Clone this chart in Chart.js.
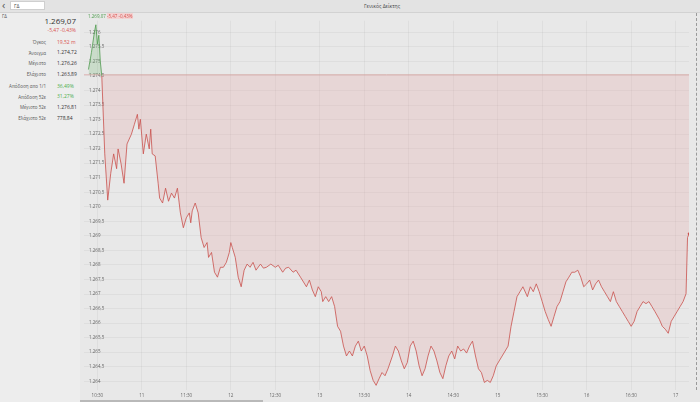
<!DOCTYPE html>
<html>
<head>
<meta charset="utf-8">
<script src="https://cdn.jsdelivr.net/npm/chart.js@4.4.0/dist/chart.umd.min.js"></script>
<style>
  body { margin: 0; width: 700px; height: 402px; overflow: hidden; position: relative; background: #ededed; font-family: "Open Sans", sans-serif; }
  #topbar { position: absolute; left: 0; top: 0; width: 700px; height: 12px; background: #e3e3e3; border-bottom: 1px solid #d2d2d2; }
  #back { position: absolute; left: 2px; top: -3px; font-size: 11px; color: #555; }
  #search { position: absolute; left: 10px; top: 1px; width: 35px; height: 9px; background: #fff; border: 1px solid #cfcfcf; font-size: 5px; line-height: 9px; padding-left: 3px; box-sizing: border-box; color: #444; }
  #title { position: absolute; left: 382px; top: 3px; transform: translateX(-50%); font-size: 5px; color: #444; white-space: nowrap; }
  #code { position: absolute; left: 2px; top: 13px; font-size: 4.5px; color: #555; }
  #price { position: absolute; right: 624px; top: 15px; font-size: 8px; color: #333; }
  #change { position: absolute; right: 624px; top: 27px; font-size: 5px; color: #d9534f; }
  .lbl { position: absolute; right: 654px; font-size: 4.5px; color: #555; white-space: nowrap; }
  .val { position: absolute; left: 57px; font-size: 5px; color: #333; white-space: nowrap; }
  .red { color: #d9534f; }
  .green { color: #4cae4c; }
  #wrap { position: absolute; left: 80px; top: 13px; width: 620px; height: 389px; background: #e8e8e8; }
  #tip { position: absolute; left: 88px; top: 13px; font-size: 4.5px; white-space: nowrap; }
  #tip .up { color: #4a9a4a; }
  #tip .dn { color: #d9534f; background: #f3d3d3; }
  #rightedge { position: absolute; left: 696px; top: 13px; height: 377px; border-left: 1px dashed #9a9a9a; }
  #scroll { position: absolute; left: 80px; top: 400px; width: 183px; height: 2px; background: #b9b9b9; }
</style>
</head>
<body>
<div id="topbar">
  <div id="back">‹</div>
  <div id="search">ΓΔ</div>
  <div id="title">Γενικός Δείκτης</div>
</div>
<div id="code">ΓΔ</div>
<div id="price">1.269,07</div>
<div id="change">-5,47 -0,43%</div>

<div class="lbl" style="top:39px">Όγκος</div><div class="val red" style="top:38.5px">19,52 m</div>
<div class="lbl" style="top:49.5px">Άνοιγμα</div><div class="val" style="top:49px">1.274,72</div>
<div class="lbl" style="top:60px">Μέγιστο</div><div class="val" style="top:59.5px">1.276,26</div>
<div class="lbl" style="top:71px">Ελάχιστο</div><div class="val" style="top:70.5px">1.263,89</div>
<div class="lbl" style="top:83px">Απόδοση απο 1/1</div><div class="val green" style="top:82.5px">36,49%</div>
<div class="lbl" style="top:93.5px">Απόδοση 52ε</div><div class="val green" style="top:93px">31,27%</div>
<div class="lbl" style="top:104px">Μέγιστο 52ε</div><div class="val" style="top:103.5px">1.276,81</div>
<div class="lbl" style="top:115px">Ελάχιστο 52ε</div><div class="val" style="top:114.5px">778,84</div>

<div id="wrap"><canvas id="chart"></canvas></div>
<div id="tip"><span class="up">1.269,07 </span><span class="dn">-5,47 -0,43%</span></div>
<div id="rightedge"></div>
<div id="scroll"></div>

<script>
"use strict";

// Γενικός Δείκτης, ενδοσυνεδριακά
const times = [
  '10:24','10:26','10:28','10:29','10:30','10:31','10:32','10:33',
  '10:35','10:37','10:39','10:41','10:43','10:44','10:46','10:48','10:50','10:53','10:55','10:57','10:58','10:59',
  '11:01','11:03','11:05','11:06','11:07','11:09','11:11','11:12','11:14','11:16','11:18','11:20','11:22','11:24','11:26','11:28','11:30','11:32','11:33','11:34','11:36','11:38','11:40','11:42','11:44','11:45','11:47','11:49','11:51','11:53','11:55','11:57','11:59',
  '12:00','12:01','12:03','12:05','12:07','12:09','12:11','12:13','12:15','12:17','12:20','12:22','12:24','12:27','12:30','12:32','12:35','12:37','12:39','12:42','12:44','12:47','12:51','12:53','12:55','12:57','12:59',
  '13:01','13:02','13:04','13:06','13:08','13:10','13:12','13:14','13:16','13:18','13:20','13:22','13:24','13:26','13:28','13:30','13:32','13:34','13:36','13:38','13:40','13:42','13:44','13:46','13:49','13:51','13:53','13:55','13:57','13:59',
  '14:01','14:03','14:05','14:07','14:09','14:11','14:13','14:15','14:17','14:19','14:21','14:23','14:25','14:27','14:29','14:31','14:33','14:35','14:37','14:39','14:41','14:43','14:45','14:47','14:49','14:51','14:53','14:55','14:57','14:59',
  '15:01','15:03','15:05','15:07','15:09','15:11','15:13','15:15','15:17','15:20','15:22','15:24','15:26','15:28','15:30','15:32','15:34','15:36','15:38','15:40','15:42','15:44','15:46','15:48','15:50','15:52','15:54','15:56','15:58',
  '16:00','16:02','16:04','16:06','16:08','16:10','16:12','16:14','16:16','16:18','16:20','16:22','16:24','16:26','16:28','16:30','16:32','16:34','16:36','16:38','16:40','16:42','16:44','16:46','16:49','16:51','16:53','16:55','16:57','16:59',
  '17:01','17:03','17:05','17:07','17:08','17:09'
];

const values = [
  1274.72, 1275.30, 1276.00, 1276.26, 1275.60, 1275.90, 1275.00, 1274.50,
  1271.82, 1270.23, 1271.14, 1271.82, 1271.31, 1271.99, 1271.48, 1270.81, 1272.16, 1272.50, 1272.84, 1273.18, 1272.67, 1273.01,
  1271.82, 1272.50, 1271.99, 1272.67, 1271.82, 1271.75, 1270.81, 1270.30, 1270.13, 1270.64, 1270.19, 1270.47, 1270.30, 1270.64, 1269.79, 1269.28, 1269.62, 1269.79, 1269.45, 1269.86, 1270.13, 1269.79, 1268.94, 1268.60, 1268.77, 1268.26, 1268.43, 1267.75, 1267.58, 1267.92, 1267.92, 1268.09, 1268.43,
  1268.77, 1268.60, 1268.26, 1267.58, 1267.25, 1267.82, 1268.03, 1267.92, 1268.09, 1267.82, 1268.03, 1267.89, 1267.92, 1268.03, 1267.92, 1267.99, 1267.75, 1267.89, 1267.92, 1267.75, 1267.82, 1267.58, 1267.25, 1267.48, 1267.14, 1266.91, 1267.25,
  1267.08, 1266.74, 1266.91, 1266.74, 1266.91, 1266.57, 1265.89, 1265.72, 1265.21, 1264.87, 1265.04, 1264.87, 1265.21, 1265.38, 1265.04, 1265.21, 1264.87, 1264.36, 1264.03, 1263.86, 1264.09, 1264.30, 1264.19, 1264.43, 1264.87, 1265.21, 1265.04, 1264.70, 1264.43, 1264.64,
  1265.21, 1265.38, 1265.04, 1264.53, 1264.19, 1264.43, 1264.87, 1265.21, 1265.04, 1264.70, 1264.30, 1264.09, 1264.53, 1264.87, 1265.04, 1264.77, 1265.21, 1265.04, 1265.11, 1264.97, 1265.21, 1265.38, 1264.87, 1264.43, 1264.30, 1263.96, 1264.03, 1263.96, 1264.19, 1264.53,
  1264.70, 1264.87, 1265.04, 1265.21, 1265.89, 1266.40, 1266.91, 1267.08, 1267.25, 1266.91, 1267.25, 1267.08, 1267.35, 1267.08, 1266.74, 1266.40, 1266.13, 1265.89, 1266.23, 1266.57, 1266.74, 1267.08, 1267.42, 1267.58, 1267.75, 1267.75, 1267.82, 1267.58, 1267.25,
  1267.35, 1267.48, 1267.14, 1267.35, 1267.48, 1267.25, 1267.08, 1266.91, 1266.74, 1267.08, 1266.74, 1266.57, 1266.40, 1266.23, 1266.06, 1265.89, 1266.06, 1266.40, 1266.57, 1266.74, 1266.67, 1266.74, 1266.57, 1266.40, 1266.13, 1265.89, 1265.79, 1265.65, 1266.06, 1266.23,
  1266.40, 1266.57, 1266.74, 1267.01, 1268.94, 1269.07
];

const prevClose = 1274.54;

const yTicks = [1264, 1264.5, 1265, 1265.5, 1266, 1266.5, 1267, 1267.5, 1268, 1268.5, 1269, 1269.5, 1270,
                1270.5, 1271, 1271.5, 1272, 1272.5, 1273, 1273.5, 1274, 1274.5, 1275, 1275.5, 1276];
const xTicks = ['10:30', '11:00', '11:30', '12:00', '12:30', '13:00', '13:30', '14:00', '14:30', '15:00', '15:30', '16:00', '16:30', '17:00'];

const lineRed = '#c9504c';
const lineGreen = '#4f9a4f';

function toMin(t) {
  const p = t.split(':');
  return parseInt(p[0]) * 60 + parseInt(p[1]);
}

// 1275.5 -> "1.275,5"
function gr(v) {
  const s = (v % 1 ? v.toFixed(1) : v.toFixed(0)).split('.');
  const int = s[0].replace(/\B(?=(\d{3})+(?!\d))/g, '.');
  return s[1] ? int + ',' + s[1] : int;
}

function xLabel(m) {
  const h = Math.floor(m / 60), mm = m % 60;
  return mm === 0 ? String(h) : h + ':' + String(mm).padStart(2, '0');
}

const points = times.map((t, i) => ({ x: toMin(t), y: values[i] }));
const firstX = toMin('10:21');
const lastX = toMin(times[times.length - 1]);

new Chart('chart', {
  type: 'line',
  data: {
    datasets: [{
      data: points,
      borderWidth: 0.8,
      borderColor: lineRed,
      pointRadius: ctx => ctx.dataIndex === values.length - 1 ? 1.3 : 0,
      pointBackgroundColor: lineRed,
      pointBorderWidth: 0,
      tension: 0,
      segment: {
        borderColor: ctx => (ctx.p0.parsed.y + ctx.p1.parsed.y) / 2 > prevClose ? lineGreen : lineRed
      },
      fill: {
        target: { value: prevClose },
        above: 'rgba(110, 185, 110, 0.25)',
        below: 'rgba(226, 150, 150, 0.22)'
      }
    }, {
      // προηγούμενο κλείσιμο
      data: [{ x: firstX, y: prevClose }, { x: lastX, y: prevClose }],
      borderColor: '#d9a3a3',
      borderWidth: 0.8,
      pointRadius: 0,
      fill: false
    }]
  },
  options: {
    responsive: true,
    maintainAspectRatio: false,
    animation: false,
    layout: { padding: { left: 0, right: 11, top: 2, bottom: 0 } },
    plugins: {
      legend: { display: false },
      tooltip: { enabled: false }
    },
    scales: {
      x: {
        type: 'linear',
        min: firstX,
        max: lastX,
        afterBuildTicks: axis => { axis.ticks = xTicks.map(t => ({ value: toMin(t) })); },
        afterFit: axis => { axis.height = 12; },
        grid: { color: 'rgba(0,0,0,0.055)', lineWidth: 0.8, drawTicks: false },
        border: { display: false },
        ticks: {
          padding: 3,
          maxRotation: 0,
          autoSkip: false,
          color: '#666',
          font: { family: 'Open Sans', size: 4.5 },
          callback: v => xLabel(v)
        }
      },
      y: {
        min: 1263.7,
        max: 1276.4,
        afterBuildTicks: axis => { axis.ticks = yTicks.map(v => ({ value: v })); },
        afterFit: axis => { axis.width = 3; },
        grid: { color: 'rgba(0,0,0,0.05)', lineWidth: 0.8, drawTicks: false },
        border: { display: false },
        ticks: {
          mirror: true,
          padding: 5,
          autoSkip: false,
          color: '#666',
          font: { family: 'Open Sans', size: 4.5 },
          callback: v => gr(v)
        }
      }
    }
  }
});
</script>
</body>
</html>
